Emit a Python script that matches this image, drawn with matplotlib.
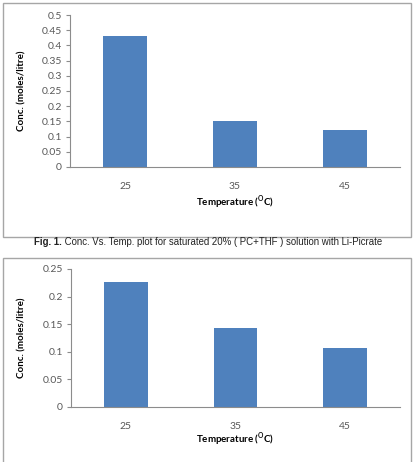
import matplotlib
matplotlib.use("Agg")
import matplotlib.pyplot as plt
from matplotlib.patches import Rectangle
from matplotlib.ticker import FuncFormatter

temperaturas = ["25", "35", "45"]
conc_fig1 = [0.432, 0.152, 0.122]
conc_fig2 = [0.226, 0.144, 0.106]
ticks_fig1 = [0, 0.05, 0.1, 0.15, 0.2, 0.25, 0.3, 0.35, 0.4, 0.45, 0.5]
ticks_fig2 = [0, 0.05, 0.1, 0.15, 0.2, 0.25]

pie_negrita = "Fig. 1."
pie = " Conc. Vs. Temp. plot for saturated 20% ( PC+THF ) solution with Li-Picrate"

plt.rcParams["font.family"] = ["Lato", "DejaVu Sans"]
plt.rcParams["mathtext.fontset"] = "custom"
plt.rcParams["mathtext.rm"] = "Lato"
plt.rcParams["mathtext.bf"] = "Lato:bold"

W, H = 416, 462
azul = "#4F81BD"
gris_eje = "#8c8c8c"
gris_texto = "#595959"

fig = plt.figure(figsize=(W / 100, H / 100), dpi=100)


def px(x0, y0, x1, y1):
    # pixeles (desde arriba) -> fracciones de figura
    return [x0 / W, (H - y1) / H, (x1 - x0) / W, (y1 - y0) / H]


def grafica(rect, valores, ticks, ylab_x, xlab_y):
    ax = fig.add_axes(px(*rect))
    x = range(len(temperaturas))
    ax.bar(x, valores, width=0.4, color=azul)
    ax.set_xlim(-0.5, len(temperaturas) - 0.5)
    ax.set_ylim(ticks[0], ticks[-1])
    ax.set_yticks(ticks)
    ax.yaxis.set_major_formatter(FuncFormatter(lambda v, p: f"{v:g}"))
    ax.set_xticks(list(x))
    ax.set_xticklabels(temperaturas)
    for s in ["top", "right"]:
        ax.spines[s].set_visible(False)
    ax.spines["left"].set_color(gris_eje)
    ax.spines["bottom"].set_color(gris_eje)
    ax.spines["left"].set_linewidth(0.8)
    ax.spines["bottom"].set_linewidth(0.8)
    ax.tick_params(axis="y", length=3, width=0.8, color=gris_eje, labelsize=7.5,
                   labelcolor=gris_texto, pad=3)
    ax.tick_params(axis="x", length=0, labelsize=7.5, labelcolor=gris_texto, pad=11)
    ax.set_ylabel("Conc. (moles/litre)", fontsize=7, fontweight="bold")
    ax.yaxis.set_label_coords((ylab_x - rect[0]) / (rect[2] - rect[0]), 0.5)
    ax.set_xlabel(r"Temperature ($^{\mathbf{O}}$C)", fontsize=7, fontweight="bold")
    ax.xaxis.set_label_coords(0.5, -(xlab_y - rect[3]) / (rect[3] - rect[1]))
    return ax


grafica((70, 15, 400, 167), conc_fig1, ticks_fig1, 26, 194)
grafica((71, 269, 400, 407), conc_fig2, ticks_fig2, 26, 431)

# marcos de las figuras
for (x0, y0, x1, y1) in [(2.5, 3, 411, 237), (2.5, 258, 411, 470)]:
    fig.add_artist(Rectangle((x0 / W, (H - y1) / H), (x1 - x0) / W, (y1 - y0) / H,
                             transform=fig.transFigure, fill=False,
                             edgecolor="#a6a6a6", linewidth=1.0))

# pie de figura: parte en negrita y resto normal, centrado
fuente_pie = ["Liberation Sans", "DejaVu Sans"]
y_pie = (H - 242) / H
t1 = fig.text(0, y_pie, pie_negrita, ha="left", va="center", fontsize=6.9,
              fontweight="bold", family=fuente_pie, color="#222222")
t2 = fig.text(0, y_pie, pie, ha="left", va="center", fontsize=6.9,
              family=fuente_pie, color="#222222")
r = fig.canvas.get_renderer()
w1 = t1.get_window_extent(r).width
w2 = t2.get_window_extent(r).width
x_ini = (W - w1 - w2) / 2
t1.set_x(x_ini / W)
t2.set_x((x_ini + w1) / W)

fig.savefig("out.png", dpi=100)
